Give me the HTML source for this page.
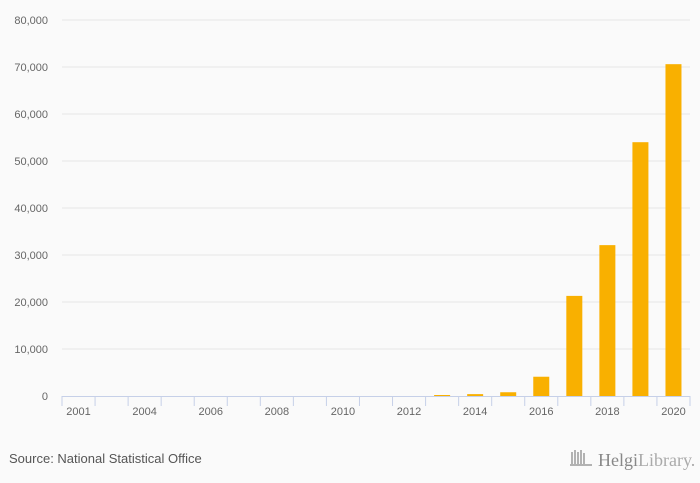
<!DOCTYPE html>
<html><head><meta charset="utf-8"><style>
body{margin:0;background:#fafafa;font-family:"Liberation Sans",sans-serif;}
svg{display:block}
</style></head><body>
<svg id="chart" width="700" height="483">
<rect width="700" height="483" fill="#fafafa"/>
<g id="grid"></g><g id="bars"></g><g id="axis"></g>
<text x="9" y="463" font-size="13" fill="#555">Source: National Statistical Office</text>
<g>
<g stroke="#999" stroke-width="1.5" fill="none">
<path d="M572 452v12M575 450v14M578 452v12M581 450v14M584 453v11M570 465h22"/>
</g>
<text x="598" y="466" font-size="18" fill="#888" font-family="Liberation Serif,serif">Helgi<tspan fill="#aaa">Library.</tspan></text>
</g>
</svg>
<script>
const categories=["2001","2003","2004","2005","2006","2007","2008","2009","2010","2011","2012","2013","2014","2015","2016","2017","2018","2019","2020"];
const values=[0,0,0,0,0,0,0,0,0,0,0,150,400,800,4100,21300,32100,54000,70600];
const yTicks=[0,10000,20000,30000,40000,50000,60000,70000,80000];
const NS="http://www.w3.org/2000/svg";
const x0=62,x1=690,y0=396,y1=20,yMax=80000;
const band=(x1-x0)/categories.length;
const y=v=>y0-(v/yMax)*(y0-y1);
const xc=i=>x0+band*(i+0.5);
function mk(tag,attrs,parent){const e=document.createElementNS(NS,tag);for(const k in attrs)e.setAttribute(k,attrs[k]);parent.appendChild(e);return e;}
const grid=document.getElementById('grid'),bars=document.getElementById('bars'),axis=document.getElementById('axis');
yTicks.forEach(t=>{
 if(t>0){const l=mk('line',{x1:x0,x2:x1,y1:y(t),y2:y(t),stroke:'#e6e6e6'},grid);
 
 }
 const tx=mk('text',{x:48,y:y(t)+4,'text-anchor':'end','font-size':'11',fill:'#666'},grid);
 tx.textContent=t.toLocaleString('en-US');
 
 
});
values.forEach((v,i)=>{
 if(v<=0)return;
 const h=Math.max(1,y0-y(v));
 const r=mk('rect',{x:xc(i)-8,y:y0-h,width:16,height:h,fill:'#f9b000'},bars);
 
 
});
const al=mk('line',{x1:x0,x2:x1,y1:y0+0.5,y2:y0+0.5,stroke:'#c6d0e8'},axis);


for(let i=0;i<=categories.length;i++){
 const xx=x0+band*i;
 const tk=mk('line',{x1:xx,x2:xx,y1:y0,y2:y0+10,stroke:'#c6d0e8'},axis);
 
 
}
categories.forEach((c,i)=>{
 if(i%2)return;
 const t=mk('text',{x:xc(i),y:y0+19,'text-anchor':'middle','font-size':'11',fill:'#666'},axis);
 t.textContent=c;
 
 
});
</script>
</body></html>
